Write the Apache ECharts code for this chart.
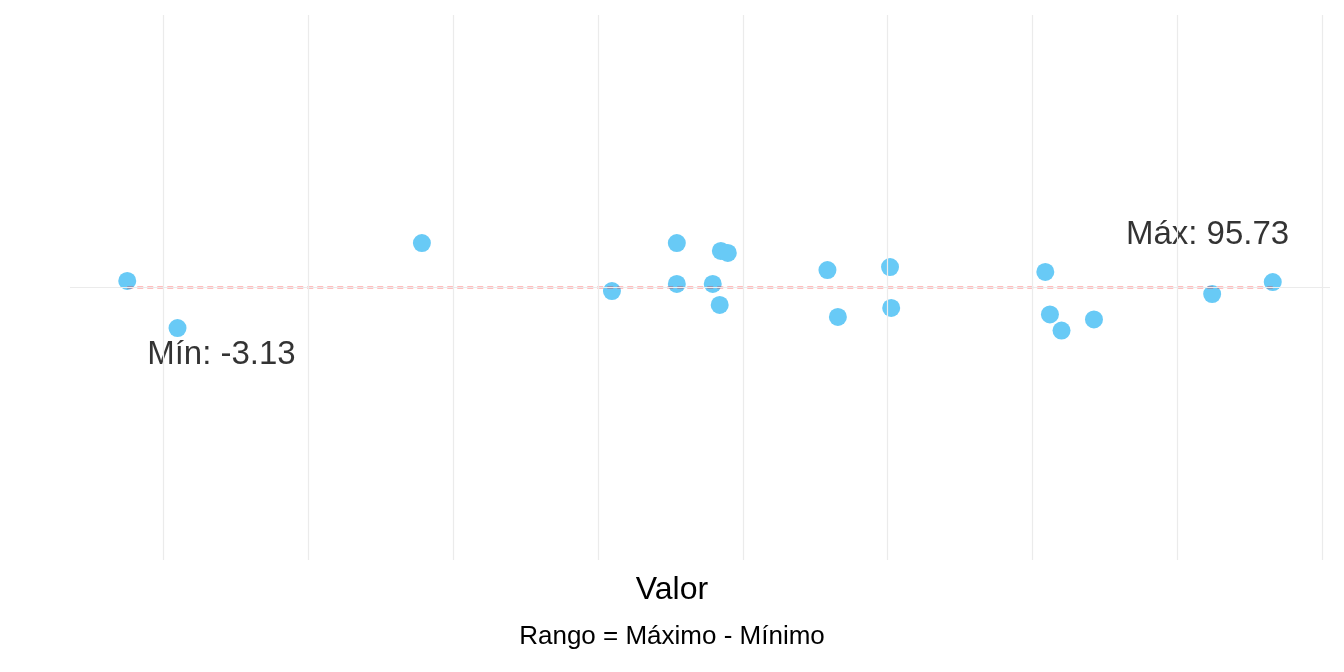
<!DOCTYPE html>
<html><head><meta charset="utf-8">
<script src="https://cdn.jsdelivr.net/npm/echarts@6/dist/echarts.min.js"></script>
<style>html,body{margin:0;padding:0;background:#fff}#c{width:1344px;height:672px}</style>
</head><body><div id="c"></div>
<script>
const xValues = [-3.13, 1.21, 22.3, 38.7, 44.3, 44.3, 47.4, 48.0, 48.1, 48.7, 57.3, 58.2, 62.7, 62.8, 76.1, 76.5, 77.5, 80.3, 90.5, 95.73];
const yJitter = [0.024, -0.149, 0.163, -0.013, 0.163, 0.013, 0.013, -0.064, 0.134, 0.127, 0.064, -0.108, 0.075, -0.075, 0.057, -0.099, -0.158, -0.117, -0.024, 0.02];
const gridBreaks = [0, 12.5, 25, 37.5, 50, 62.5, 75, 87.5, 100];
const minVal = -3.13, maxVal = 95.73;
const labels = [
  {x: 5.0, y: -0.246, text: 'Mín: -3.13'},
  {x: 90.1, y: 0.193, text: 'Máx: 95.73'}
];
const font = 'Arial, "Liberation Sans", sans-serif';
const chart = echarts.init(document.getElementById('c'));
chart.setOption({
  animation: false,
  grid: {left: 70, right: 14, top: 15, bottom: 112},
  xAxis: {type: 'value', min: -8.07, max: 100.67, axisLine: {show: false}, axisTick: {show: false},
    axisLabel: {show: false}, splitLine: {show: false}},
  yAxis: {type: 'value', min: -1, max: 1, show: false, splitLine: {show: false}},
  graphic: [
    {type: 'text', left: 'center', top: 574, style: {text: 'Valor', font: '32px ' + font, fill: '#000'}},
    {type: 'text', left: 'center', top: 624, style: {text: 'Rango = Máximo - Mínimo', font: '26px ' + font, fill: '#000'}}
  ],
  series: [
    {type: 'line', data: [], silent: true,
      markLine: {symbol: 'none', silent: true, label: {show: false},
        lineStyle: {color: '#EBEBEB', type: 'solid', width: 1.2},
        data: gridBreaks.map(v => ({xAxis: v})).concat([{yAxis: 0}])}},
    {type: 'line', data: [[minVal, 0], [maxVal, 0]], symbol: 'none', silent: true,
      lineStyle: {color: '#FF0000', type: [6, 4], width: 1.6}},
    {type: 'scatter', data: xValues.map((v, i) => [v, yJitter[i]]), symbolSize: 18,
      itemStyle: {color: '#68CAF6', opacity: 1}},
    {type: 'scatter', data: labels.map(l => ({value: [l.x, l.y], name: l.text})), symbolSize: 0, silent: true,
      label: {show: true, position: 'inside', formatter: p => p.name, fontSize: 33, fontFamily: font, color: '#000'}}
  ]
});
</script></body></html>
